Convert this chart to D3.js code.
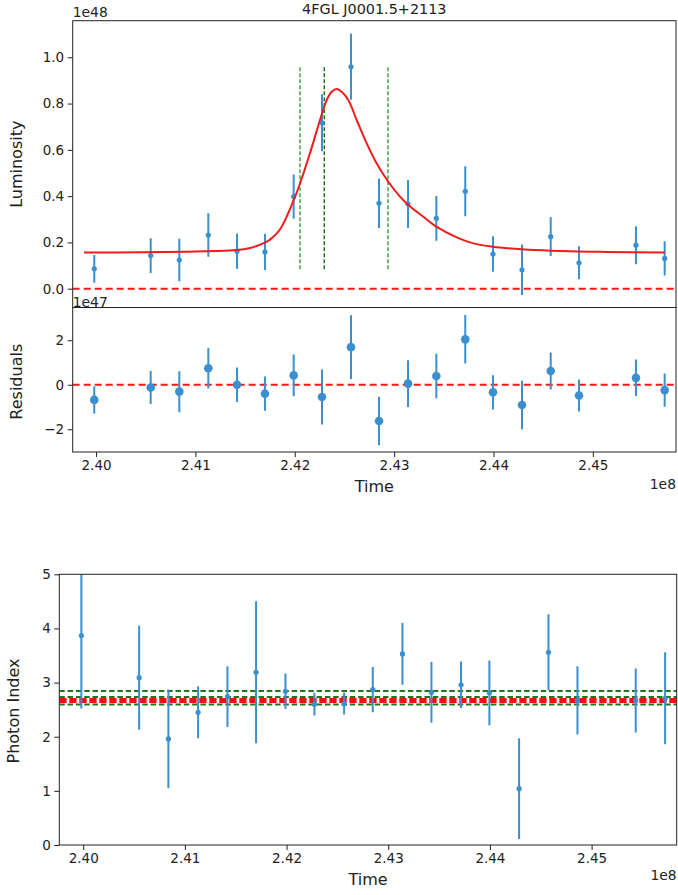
<!DOCTYPE html>
<html>
<head>
<meta charset="utf-8">
<script src="https://cdn.jsdelivr.net/npm/d3@7"></script>
<style>
	body { margin: 0; background: #fff; }
	text { font-family: "DejaVu Sans", sans-serif; fill: #222; }
	.axis path, .axis line { stroke: #222; }
</style>
</head>
<body>
<svg id="viz"></svg>
<script>
/* data, time in units of 1e8 s */
var times = [2.39982, 2.40550, 2.40838, 2.41130, 2.41419, 2.41700, 2.41989, 2.42274, 2.42566,
	2.42848, 2.43140, 2.43425, 2.43716, 2.43995, 2.44287, 2.44576, 2.44861, 2.45434, 2.45723];

// luminosity, units of 1e48
var lum = [0.086, 0.143, 0.124, 0.232, 0.162, 0.159, 0.398, 0.717, 0.959, 0.369,
	0.366, 0.304, 0.421, 0.150, 0.082, 0.225, 0.112, 0.188, 0.131];
var lumErr = [0.060, 0.075, 0.092, 0.094, 0.076, 0.078, 0.096, 0.123, 0.143, 0.107,
	0.104, 0.097, 0.108, 0.077, 0.109, 0.084, 0.071, 0.082, 0.074];

// fitted curve
var fitTimes = [2.39879, 2.41419, 2.41550, 2.41700, 2.41751, 2.41851, 2.41985, 2.42053, 2.42153,
	2.42254, 2.42321, 2.42372, 2.42422, 2.42472, 2.42539, 2.42623, 2.42724, 2.42825, 2.42941,
	2.43059, 2.43143, 2.43294, 2.43425, 2.43630, 2.43797, 2.43995, 2.44287, 2.44576, 2.45140, 2.45726];
var fitLum = [0.156, 0.167, 0.176, 0.199, 0.212, 0.256, 0.378, 0.455, 0.585,
	0.729, 0.815, 0.851, 0.863, 0.851, 0.815, 0.729, 0.628, 0.541, 0.462,
	0.398, 0.362, 0.311, 0.268, 0.222, 0.196, 0.181, 0.170, 0.164, 0.159, 0.156];

var flareLines = [2.42053, 2.42297, 2.42938];
var flareSpan = [0.084, 0.959];

// residuals, units of 1e47
var resid = [-0.68, -0.12, -0.31, 0.74, 0.00, -0.40, 0.42, -0.55, 1.69, -1.63,
	0.05, 0.39, 2.04, -0.34, -0.91, 0.62, -0.48, 0.31, -0.24];
var residErr = [0.61, 0.74, 0.92, 0.91, 0.77, 0.77, 0.94, 1.23, 1.43, 1.09,
	1.05, 1.00, 1.09, 0.77, 1.09, 0.83, 0.72, 0.82, 0.75];

var index = [3.87, 3.09, 1.96, 2.45, 2.74, 3.19, 2.84, 2.60, 2.61, 2.87,
	3.53, 2.82, 2.96, 2.81, 1.04, 3.56, 2.67, 2.67, 2.71];
var indexErr = [1.35, 0.96, 0.91, 0.48, 0.56, 1.31, 0.33, 0.21, 0.20, 0.42,
	0.57, 0.56, 0.43, 0.60, 0.93, 0.70, 0.63, 0.59, 0.85];

var indexMean = 2.67;
var indexBands = [2.845, 2.735, 2.595];

var lumTicks = [0, 0.2, 0.4, 0.6, 0.8, 1.0];
var residTicks = [-2, 0, 2];
var indexTicks = [0, 1, 2, 3, 4, 5];
var timeTicks = [2.40, 2.41, 2.42, 2.43, 2.44, 2.45];
var timeDomain = [2.39765, 2.45837];

var blue = "#3b8fcf";

var svg = d3.select('#viz')
	.attr('width', 678)
	.attr('height', 895);

var points = times.map(function(t, i){
	return { t: t, lum: lum[i], lumErr: lumErr[i], res: resid[i], resErr: residErr[i],
		idx: index[i], idxErr: indexErr[i] };
});

/* scales */
var xTop = d3.scaleLinear().domain(timeDomain).range([72.7, 676]);
var xBot = d3.scaleLinear().domain(timeDomain).range([59.3, 676.7]);
var yLum = d3.scaleLinear().domain([-0.0812, 1.158]).range([307.5, 20.7]);
var yRes = d3.scaleLinear().domain([-3.02, 3.47]).range([452, 307.5]);
var yIdx = d3.scaleLinear().domain([0, 5]).range([845, 574.3]);

var fmtTime = function(d){ return d.toFixed(2); };
var fmtMinus = function(d){ return d < 0 ? "\u2212" + Math.abs(d) : "" + d; };

var drawYAxis = function(x, y, ticks, fmt){
	var ax = svg.append('g')
		.attr('class', 'axis')
		.attr('transform', 'translate(' + x.range()[0] + ',0)')
		.call(d3.axisLeft(y).tickValues(ticks).tickFormat(fmt).tickSize(5).tickPadding(3.5).tickSizeOuter(0));
	ax.select('.domain').remove();
	ax.selectAll('text').style('font-size', '13.5px').style('font-family', '"DejaVu Sans"').attr('fill', '#222');
	return ax;
}

var drawXAxis = function(x, y){
	var ax = svg.append('g')
		.attr('class', 'axis')
		.attr('transform', 'translate(0,' + y.range()[0] + ')')
		.call(d3.axisBottom(x).tickValues(timeTicks).tickFormat(fmtTime).tickSize(5).tickPadding(3.5).tickSizeOuter(0));
	ax.select('.domain').remove();
	ax.selectAll('text').style('font-size', '13.5px').style('font-family', '"DejaVu Sans"').attr('fill', '#222');
	return ax;
}

var drawFrame = function(x, y){
	svg.append('rect')
		.attr('x', x.range()[0])
		.attr('y', y.range()[1])
		.attr('width', x.range()[1] - x.range()[0])
		.attr('height', y.range()[0] - y.range()[1])
		.attr('fill', 'none')
		.attr('stroke', '#222')
		.attr('stroke-width', 1);
}

var clipFor = function(id, x, y){
	svg.append('clipPath').attr('id', id)
		.append('rect')
		.attr('x', x.range()[0])
		.attr('y', y.range()[1])
		.attr('width', x.range()[1] - x.range()[0])
		.attr('height', y.range()[0] - y.range()[1]);
	return svg.append('g').attr('clip-path', 'url(#' + id + ')');
}

var drawErrorbars = function(g, x, y, key, errKey, r){
	g.append('g').selectAll('line')
		.data(points)
		.enter().append('line')
		.attr('x1', function(d){ return x(d.t); })
		.attr('x2', function(d){ return x(d.t); })
		.attr('y1', function(d){ return y(d[key] - d[errKey]); })
		.attr('y2', function(d){ return y(d[key] + d[errKey]); })
		.attr('stroke', blue)
		.attr('stroke-width', 2);
	g.append('g').selectAll('circle')
		.data(points)
		.enter().append('circle')
		.attr('cx', function(d){ return x(d.t); })
		.attr('cy', function(d){ return y(d[key]); })
		.attr('r', r)
		.attr('fill', blue);
}

var label = function(text, x, y, size, anchor, rotate){
	var t = svg.append('text')
		.attr('x', x)
		.attr('y', y)
		.attr('text-anchor', anchor || 'middle')
		.style('font-size', size + 'px')
		.text(text);
	if (rotate) t.attr('transform', 'rotate(-90,' + x + ',' + y + ')');
	return t;
}

/* top panel: luminosity */
var gTop = clipFor('clipTop', xTop, yLum);

gTop.append('line')
	.attr('x1', xTop.range()[0]).attr('x2', xTop.range()[1])
	.attr('y1', yLum(0)).attr('y2', yLum(0))
	.attr('stroke', '#f01a1a').attr('stroke-width', 2).attr('stroke-dasharray', '7,4');

gTop.selectAll('.flare')
	.data(flareLines)
	.enter().append('line')
	.attr('class', 'flare')
	.attr('x1', function(d){ return xTop(d); })
	.attr('x2', function(d){ return xTop(d); })
	.attr('y1', yLum(flareSpan[0]))
	.attr('y2', yLum(flareSpan[1]))
	.attr('stroke', function(d, i){ return i == 1 ? '#1c6e1c' : '#3a9a3a'; })
	.attr('stroke-width', 1.4)
	.attr('stroke-dasharray', '4,2');

drawErrorbars(gTop, xTop, yLum, 'lum', 'lumErr', 2.6);

var fitLine = d3.line()
	.x(function(d){ return xTop(d[0]); })
	.y(function(d){ return yLum(d[1]); })
	.curve(d3.curveCatmullRom);

gTop.append('path')
	.attr('d', fitLine(d3.zip(fitTimes, fitLum)))
	.attr('fill', 'none')
	.attr('stroke', '#ee1c1c')
	.attr('stroke-width', 2);

drawFrame(xTop, yLum);
drawYAxis(xTop, yLum, lumTicks, function(d){ return d.toFixed(1); });
label('4FGL J0001.5+2113', 374.3, 14, 14.4);
label('1e48', 72.7, 17.3, 13.9, 'start');
label('Luminosity', 22.5, 164.2, 16, 'middle', true);

/* residuals */
var gRes = clipFor('clipRes', xTop, yRes);

gRes.append('line')
	.attr('x1', xTop.range()[0]).attr('x2', xTop.range()[1])
	.attr('y1', yRes(0)).attr('y2', yRes(0))
	.attr('stroke', '#f01a1a').attr('stroke-width', 2).attr('stroke-dasharray', '7,4');

drawErrorbars(gRes, xTop, yRes, 'res', 'resErr', 4.3);

drawFrame(xTop, yRes);
drawYAxis(xTop, yRes, residTicks, fmtMinus);
drawXAxis(xTop, yRes);
label('1e47', 72.7, 306.5, 13.9, 'start');
label('Residuals', 22.5, 381.7, 16, 'middle', true);
label('Time', 374.3, 492, 16);
label('1e8', 676, 488.5, 13.9, 'end');

/* bottom panel: photon index */
var gIdx = clipFor('clipIdx', xBot, yIdx);

gIdx.append('line')
	.attr('x1', xBot.range()[0]).attr('x2', xBot.range()[1])
	.attr('y1', yIdx(indexMean)).attr('y2', yIdx(indexMean))
	.attr('stroke', '#f01010').attr('stroke-width', 5).attr('stroke-dasharray', '7.3,2.7');

gIdx.selectAll('.band')
	.data(indexBands)
	.enter().append('line')
	.attr('class', 'band')
	.attr('x1', xBot.range()[0]).attr('x2', xBot.range()[1])
	.attr('y1', function(d){ return yIdx(d); })
	.attr('y2', function(d){ return yIdx(d); })
	.attr('stroke', '#1a7a1a')
	.attr('stroke-width', 2)
	.attr('stroke-dasharray', '5.5,2.8');

drawErrorbars(gIdx, xBot, yIdx, 'idx', 'idxErr', 2.6);

drawFrame(xBot, yIdx);
drawYAxis(xBot, yIdx, indexTicks, function(d){ return "" + d; });
drawXAxis(xBot, yIdx);
label('Photon Index', 19, 711, 16, 'middle', true);
label('Time', 368, 885, 16);
label('1e8', 676.7, 880, 13.9, 'end');
</script>
</body>
</html>
